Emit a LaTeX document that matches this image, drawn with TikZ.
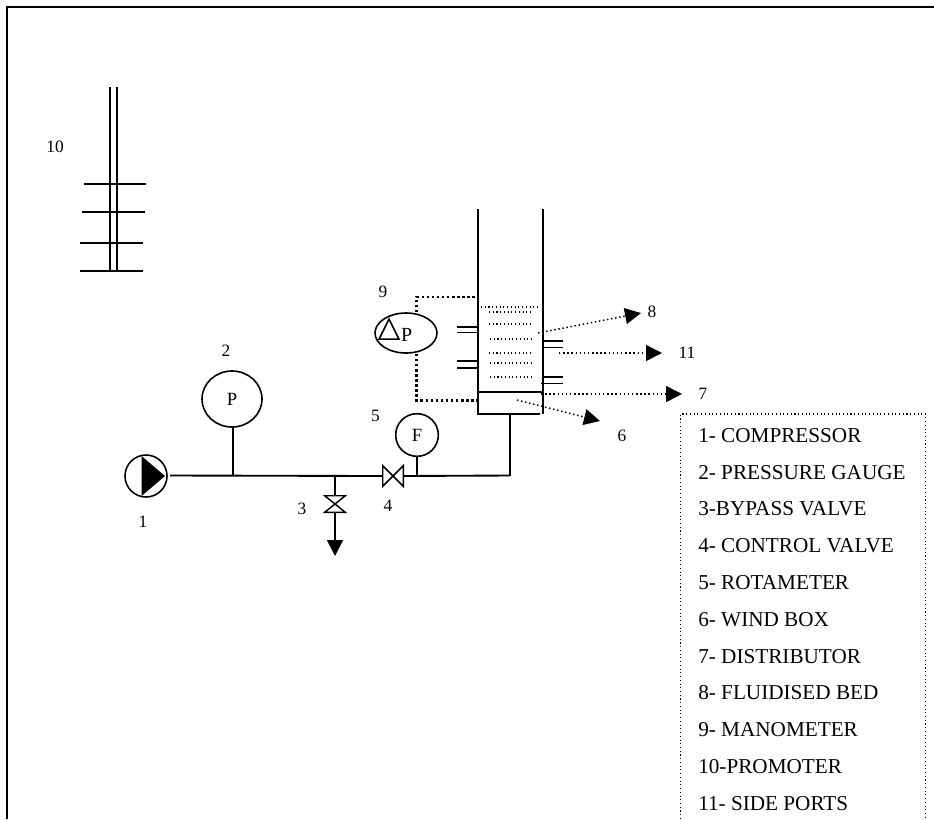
\documentclass[tikz,border=0pt]{standalone}
\usepackage{fontspec}
\setmainfont{Liberation Serif}
\usetikzlibrary{positioning,arrows.meta,shapes.geometric}

\begin{document}
\begin{tikzpicture}[
    x=0.75pt, y=-0.75pt,
    line/.style={draw, line width=1.4pt},
    thinline/.style={draw, line width=1.1pt},
    gauge/.style={circle, draw, line width=1.2pt, inner sep=0pt, font=\fontsize{14}{16}\selectfont},
    valve/.style={rectangle, inner sep=0pt},
    tag/.style={inner sep=0pt, font=\fontsize{13}{15}\selectfont},
    legendtext/.style={inner sep=0pt, anchor=west, text height=11pt, text depth=0pt, font=\fontsize{15.9}{18}\selectfont},
    bedlevel/.style={dotted, line width=0.8pt},
    leader/.style={dotted, line width=1.1pt, -{Triangle[length=12pt,width=12pt]}},
    tapping/.style={line width=1.9pt, dash pattern=on 1.9pt off 1.9pt}
]
\useasboundingbox (0,0) rectangle (934,819);

% Frame
\draw[line width=1.5pt] (7,819) -- (7,6.5) -- (934,6.5);

% Promoter
\coordinate (rodla) at (110,87);
\coordinate (rodlb) at (110,271);
\coordinate (rodra) at (117,87);
\coordinate (rodrb) at (117,271);
\draw[line] (rodla) -- (rodlb);
\draw[line] (rodra) -- (rodrb);
\draw[thinline] (84,184) -- (146,184);
\draw[thinline] (82,212) -- (145,212);
\draw[thinline] (80,243) -- (143,243);
\draw[thinline] (80,271) -- (143,271);
\node[tag] (tagten) at (55,147) {10};

% Compressor and feed line
\node[gauge, minimum size=31.5pt] (comp) at (146,476) {};
\coordinate (compa) at (141.5,456);
\coordinate (compb) at (141.5,496);
\coordinate (compc) at (165,476);
\fill (compa) -- (compb) -- (compc) -- cycle;
\node[gauge, ellipse, minimum width=45pt, minimum height=42pt] (pgauge) at (232,399) {P};
\coordinate (pjoin) at (233,475.5);
\coordinate (bjoin) at (335,475.5);
\coordinate (fjoin) at (416,475.5);
\coordinate (bend) at (510,475.5);
\coordinate (linestart) at (170,475.5);
\node[valve, minimum width=15pt, minimum height=12pt] (bypass) at (335,504) {};
\node[valve, minimum width=15pt, minimum height=15pt] (control) at (393,476) {};
\node[gauge, minimum size=32pt] (fgauge) at (417,435) {F};
\coordinate (drain) at (335,556);

\draw[line] (linestart) -- (control.west);
\draw[line] (control.east) -- (bend);
\draw[line] (pgauge.south -| pjoin) -- (pjoin);
\draw[line] (fgauge.south) -- (fgauge.south |- fjoin);
\draw[line] (bjoin) -- (bypass.north);
\draw[line, -{Triangle[length=12pt,width=12pt]}] (bypass.south) -- (drain);
\draw[thinline] (bypass.north west) -- (bypass.north east) -- (bypass.south west) -- (bypass.south east) -- cycle;
\draw[thinline] (control.north west) -- (control.south west) -- (control.north east) -- (control.south east) -- cycle;

% Column
\coordinate (walla) at (478,209);
\coordinate (wallb) at (478,414);
\coordinate (wallc) at (543,209);
\coordinate (walld) at (543,414);
\coordinate (boxin) at (510,414);
\coordinate (dista) at (478,392);
\coordinate (distb) at (542,392);
\draw[line] (walla) -- (wallb) -- (540,414);
\draw[line] (wallc) -- (walld);
\draw[line] (dista) -- (distb);
\draw[line] (bend) -- (boxin);

% Bed levels
\draw[bedlevel] (481,307) -- (539,307);
\draw[bedlevel] (489,312) -- (531,312);
\draw[bedlevel] (489,324) -- (531,324);
\draw[bedlevel] (490,339) -- (533,339);
\draw[bedlevel] (489,353) -- (531,353);
\draw[bedlevel] (490,363) -- (533,363);
\draw[bedlevel] (490,377) -- (533,377);

% Side ports
\draw[thinline] (457,327) -- (478,327);
\draw[thinline] (457,332.5) -- (478,332.5);
\draw[thinline] (457,361) -- (478,361);
\draw[thinline] (457,368) -- (478,368);
\draw[thinline] (543,341) -- (563,341);
\draw[thinline] (543,347.5) -- (563,347.5);
\draw[thinline] (543,377) -- (563,377);
\draw[thinline] (541,383.5) -- (563,383.5);

% Manometer
\node[gauge, ellipse, minimum width=46.5pt, minimum height=30pt] (mano) at (406,333) {};
\node[isosceles triangle, isosceles triangle apex angle=53, shape border rotate=90, draw, line width=1.2pt, inner sep=0pt, minimum height=15pt] (delta) at (389,333) {};
\node[tag, font=\fontsize{15}{17}\selectfont, right=0.5pt of delta.right corner, anchor=base west, yshift=-1pt] (mtext) {P};
\coordinate (tapa) at (478,297);
\coordinate (tapb) at (478,400.5);
\draw[tapping] (mano.north -| 416.5,0) |- (tapa);
\draw[tapping] (mano.south -| 416.5,0) |- (tapb);

% Leaders
\coordinate (lead8a) at (538,333);
\coordinate (lead8b) at (641,313);
\coordinate (lead11a) at (559,353);
\coordinate (lead11b) at (662,353);
\coordinate (lead7a) at (541,394);
\coordinate (lead7b) at (682,394);
\coordinate (lead6a) at (517,400);
\coordinate (lead6b) at (600,421);
\draw[leader] (lead8a) -- (lead8b);
\draw[leader] (lead11a) -- (lead11b);
\draw[leader] (lead7a) -- (lead7b);
\draw[leader] (lead6a) -- (lead6b);

% Number tags
\node[tag] (tagone) at (143,522) {1};
\node[tag] (tagtwo) at (226,351) {2};
\node[tag] (tagthree) at (302,509) {3};
\node[tag] (tagfour) at (388,506) {4};
\node[tag] (tagfive) at (375.5,416) {5};
\node[tag] (tagsix) at (622,436) {6};
\node[tag] (tagseven) at (703,394) {7};
\node[tag] (tageight) at (652,312) {8};
\node[tag] (tagnine) at (383,292) {9};
\node[tag] (tageleven) at (687,353) {11};

% Legend
\draw[dotted, line width=0.8pt] (680.5,819) -- (680.5,414) -- (925.5,414) -- (925.5,819);
\node[legendtext] (itema) at (698,435) {1- COMPRESSOR};
\node[legendtext] (itemb) at ([yshift=-27.6pt]itema.west) {2- PRESSURE GAUGE};
\node[legendtext] (itemc) at ([yshift=-27.6pt]itemb.west) {3-BYPASS VALVE};
\node[legendtext] (itemd) at ([yshift=-27.6pt]itemc.west) {4- CONTROL VALVE};
\node[legendtext] (iteme) at ([yshift=-27.6pt]itemd.west) {5- ROTAMETER};
\node[legendtext] (itemf) at ([yshift=-27.6pt]iteme.west) {6- WIND BOX};
\node[legendtext] (itemg) at ([yshift=-27.6pt]itemf.west) {7- DISTRIBUTOR};
\node[legendtext] (itemh) at ([yshift=-27.6pt]itemg.west) {8- FLUIDISED BED};
\node[legendtext] (itemi) at ([yshift=-27.6pt]itemh.west) {9- MANOMETER};
\node[legendtext] (itemj) at ([yshift=-27.6pt]itemi.west) {10-PROMOTER};
\node[legendtext] (itemk) at ([yshift=-27.6pt]itemj.west) {11- SIDE PORTS};

\end{tikzpicture}
\end{document}
